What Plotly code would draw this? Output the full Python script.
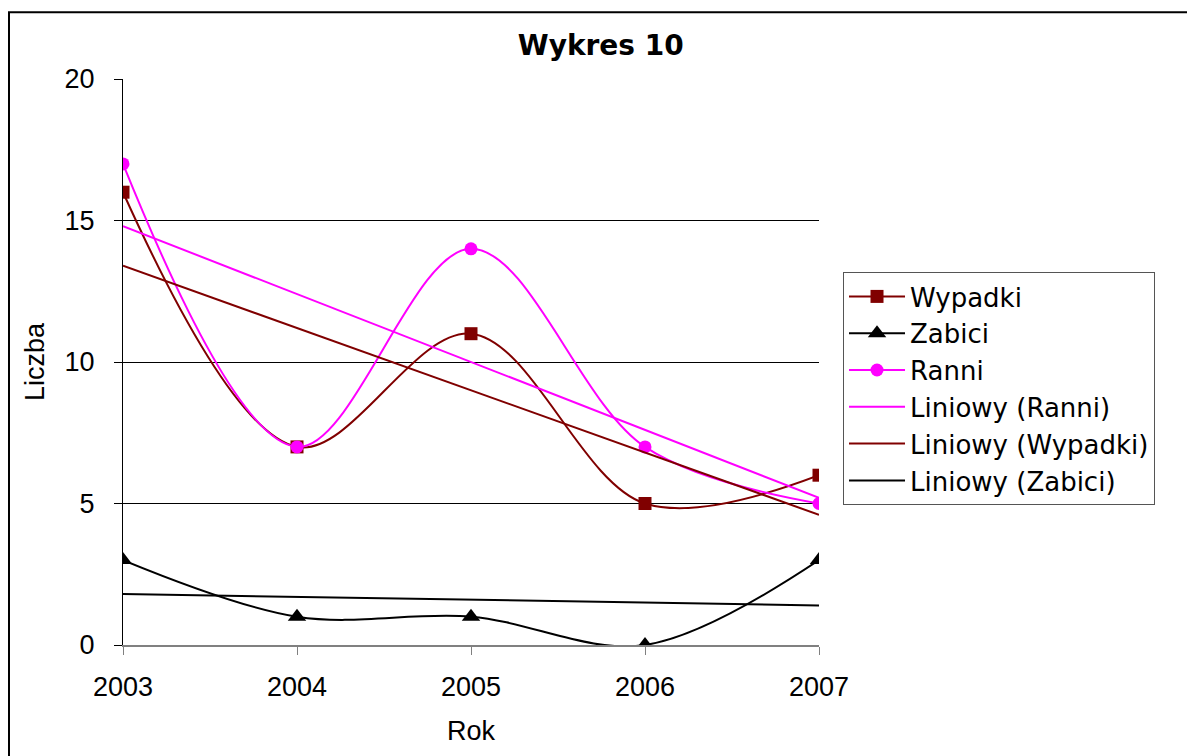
import numpy as np
import plotly.graph_objects as go

lata = [2003, 2004, 2005, 2006, 2007]
wypadki = [16, 7, 11, 5, 6]
zabici = [3, 1, 1, 0, 3]
ranni = [17, 7, 14, 7, 5]

BORDO = "#800000"
MAGENTA = "#FF00FF"
CZARNY = "#000000"


# linia trendu (regresja liniowa jak w Excelu)
def trend(y):
    m, b = np.polyfit(lata, y, 1)
    return [m * x + b for x in lata]


fig = go.Figure()

fig.add_trace(go.Scatter(
    x=lata, y=wypadki, name="Wypadki", mode="lines+markers",
    line=dict(color=BORDO, width=2, shape="spline", smoothing=1),
    marker=dict(symbol="square", size=13, color=BORDO),
))
fig.add_trace(go.Scatter(
    x=lata, y=zabici, name="Zabici", mode="lines+markers",
    line=dict(color=CZARNY, width=2, shape="spline", smoothing=1),
    marker=dict(symbol="triangle-up", size=16, color=CZARNY),
))
fig.add_trace(go.Scatter(
    x=lata, y=ranni, name="Ranni", mode="lines+markers",
    line=dict(color=MAGENTA, width=2, shape="spline", smoothing=1),
    marker=dict(symbol="circle", size=13, color=MAGENTA),
))
fig.add_trace(go.Scatter(
    x=lata, y=trend(ranni), name="Liniowy (Ranni)", mode="lines",
    line=dict(color=MAGENTA, width=2),
))
fig.add_trace(go.Scatter(
    x=lata, y=trend(wypadki), name="Liniowy (Wypadki)", mode="lines",
    line=dict(color=BORDO, width=2),
))
fig.add_trace(go.Scatter(
    x=lata, y=trend(zabici), name="Liniowy (Zabici)", mode="lines",
    line=dict(color=CZARNY, width=2),
))

# ramka calego wykresu
fig.add_shape(type="rect", xref="paper", yref="paper",
              x0=-0.1638, x1=1.537, y0=-0.25, y1=1.118,
              line=dict(color="black", width=2), layer="below")

fig.update_layout(
    width=1195, height=756,
    margin=dict(l=115, r=384, t=71, b=119),
    paper_bgcolor="white", plot_bgcolor="white",
    font=dict(family="Liberation Sans, Arial, sans-serif", size=27, color="black"),
    title=dict(text="<b>Wykres 10</b>", x=0.496, xanchor="center",
               xref="container", yref="container", y=0.951, yanchor="middle",
               font=dict(family="DejaVu Sans, Verdana, sans-serif", size=28)),
    showlegend=True,
    legend=dict(
        x=1.0345, y=0.659, xanchor="left", yanchor="top",
        bordercolor="#555555", borderwidth=1, bgcolor="white",
        font=dict(family="DejaVu Sans, Verdana, sans-serif", size=26),
        tracegroupgap=0, itemwidth=56,
    ),
    xaxis=dict(
        title=dict(text="Rok", font=dict(size=27), standoff=20),
        range=[2003, 2007], tickvals=lata, ticktext=[str(r) for r in lata],
        showgrid=False, zeroline=False,
        showline=True, linecolor="#808080", linewidth=1.5,
        ticks="outside", ticklen=8, tickcolor="#808080",
        ticklabelstandoff=9,
        tickfont=dict(size=27),
    ),
    yaxis=dict(
        title=dict(text="Liczba", font=dict(size=27), standoff=12),
        range=[0, 20], tickvals=[0, 5, 10, 15, 20],
        showgrid=True, gridcolor="black", gridwidth=1,
        zeroline=False, showline=True, linecolor="black", linewidth=1,
        ticks="outside", ticklen=8, tickcolor="black",
        ticklabelstandoff=14,
        tickfont=dict(size=27),
    ),
)

fig.write_html("out.html")
